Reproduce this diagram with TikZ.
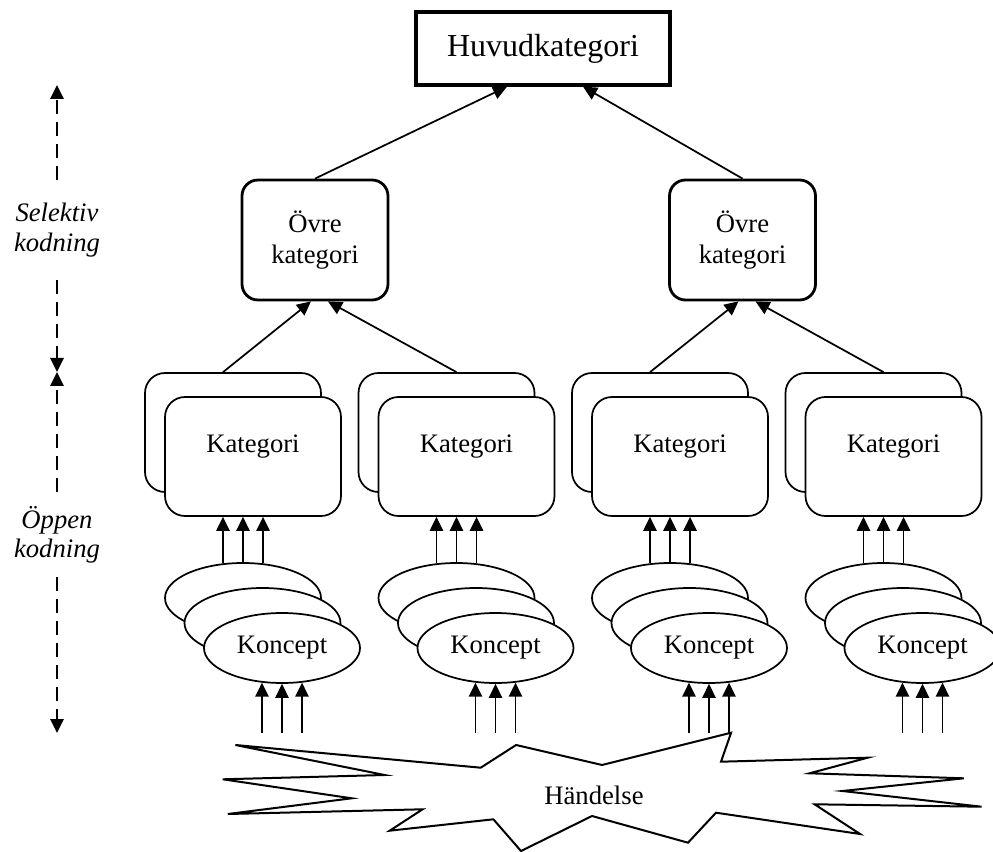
\documentclass[tikz,border=0pt]{standalone}
\usepackage{fontspec}
\setmainfont{Liberation Serif}
\usetikzlibrary{arrows.meta,shapes.geometric,calc}
\begin{document}
\begin{tikzpicture}[x=0.75pt,y=-0.75pt,
  thin/.style={line width=1.3pt},
  tip/.style={-{Triangle[width=10pt,length=10.5pt]}},
  huvud/.style={draw,line width=2.5pt,minimum width=190.5pt,minimum height=54.75pt,inner sep=0pt,font=\fontsize{24}{28}\selectfont},
  ovre/.style={draw,line width=2.1pt,rounded corners=12pt,minimum width=109.5pt,minimum height=90pt,inner sep=0pt,align=center,font=\fontsize{20}{23}\selectfont},
  katbox/.style={draw,thin,fill=white,rounded corners=15pt,minimum width=132pt,minimum height=89.25pt,inner sep=0pt},
  kattext/.style={font=\fontsize{20}{24}\selectfont,inner sep=0pt},
  koncept/.style={draw,thin,fill=white,ellipse,minimum width=117pt,minimum height=52.5pt,inner sep=0pt,font=\fontsize{20}{24}\selectfont},
  side/.style={font=\itshape\fontsize{20}{22}\selectfont,align=center,inner sep=0pt},
  dashline/.style={thin,dash pattern=on 10pt off 6.5pt},
]
\useasboundingbox (0,0) rectangle (993,852);

% top levels
\node[huvud] (h) at (543,48.5) {Huvudkategori};
\node[ovre] (o1) at (315,240) {Övre\\kategori};
\node[ovre] (o2) at (742.5,240) {Övre\\kategori};
\draw[thin,tip] (o1.north) -- ([xshift=-27pt]h.south);
\draw[thin,tip] (o2.north) -- ([xshift=30pt]h.south);

% stacks
\foreach \i/\X in {1/243,2/456.5,3/670,4/883.5} {
  \node[katbox] (kb\i) at (\X-10,432.5) {};
  \node[katbox] (kf\i) at (\X+10,456.5) {};
  \node[kattext] (kt\i) at (\X+10,447) {Kategori};
  \node[koncept] (cb\i) at (\X,598) {};
  \node[koncept] (cm\i) at (\X+19.5,623) {};
  \node[koncept] (cf\i) at (\X+39,648) {Koncept};
}

% Kategori -> Övre
\draw[thin,tip] ([xshift=-7.5pt]kb1.north) -- ([xshift=-3pt]o1.south);
\draw[thin,tip] ([xshift=7.5pt]kb2.north) -- ([xshift=9.75pt]o1.south);
\draw[thin,tip] ([xshift=-7.5pt]kb3.north) -- ([xshift=-3pt]o2.south);
\draw[thin,tip] ([xshift=7.5pt]kb4.north) -- ([xshift=9.75pt]o2.south);

% Händelse
\draw[line width=1.5pt,fill=white,line join=miter]
  (235.4,745) -- (480.7,767.7) -- (516.1,745) -- (602.1,765) -- (731.1,732.7)
  -- (721,761.7) -- (867.7,757.7) -- (809.5,773.3) -- (963.8,778.3)
  -- (842.4,791) -- (981.5,806.7) -- (814.6,804.3) -- (860,834)
  -- (716,812.7) -- (688,842.7) -- (592,816) -- (521,851) -- (493.4,819.3)
  -- (389.7,830.7) -- (422.6,809.3) -- (227.8,814) -- (351.7,798.3)
  -- (222.8,779.3) -- (384.6,775) -- cycle;
\node[kattext] (ev) at (594,795) {Händelse};
\coordinate (base) at (0,733);

% Koncept -> Kategori, Händelse -> Koncept
\foreach \i in {1,2,3,4} {
  \draw[thin,tip] (cb\i.120) -- (cb\i.120 |- kf\i.south);
  \draw[thin,tip] (cb\i.north) -- (cb\i.north |- kf\i.south);
  \draw[thin,tip] (cb\i.60) -- (cb\i.60 |- kf\i.south);
  \draw[thin,tip] (cf\i.240 |- base) -- (cf\i.240);
  \draw[thin,tip] (cf\i.south |- base) -- (cf\i.south);
  \draw[thin,tip] (cf\i.300 |- base) -- (cf\i.300);
}

% side labels
\node[side,minimum height=75pt] (s1) at (57,230) {Selektiv\\kodning};
\node[side,minimum height=63.75pt] (s2) at (57,534.5) {Öppen\\kodning};
\coordinate (a1) at (57,85);
\coordinate (a2) at (57,372);
\coordinate (a3) at (57,733);
\draw[dashline,tip] (s1.north) -- (a1);
\draw[dashline,tip] (s1.south) -- (a2);
\draw[dashline,tip] (s2.north) -- (a2);
\draw[dashline,tip] (s2.south) -- (a3);
\end{tikzpicture}
\end{document}
